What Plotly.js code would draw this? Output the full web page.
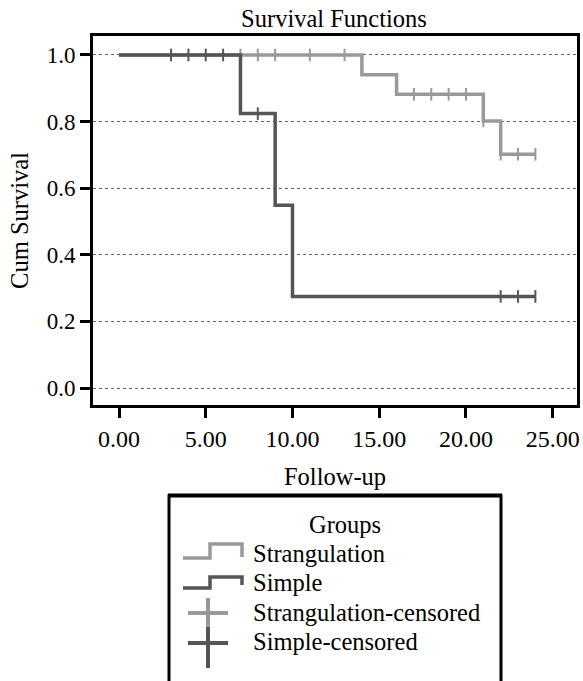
<!DOCTYPE html>
<html>
<head>
<meta charset="utf-8">
<script src="https://cdn.plot.ly/plotly-3.0.1.min.js"></script>
<style>
html,body{margin:0;padding:0;background:#fff;}
#chart{width:583px;height:681px;}
</style>
</head>
<body>
<div id="chart"></div>
<script>
// ---- data ----
var seriesNames = ["Strangulation", "Simple"];
var censoredNames = ["Strangulation-censored", "Simple-censored"];
var legendTitle = "Groups";

var strangTime = [0, 14, 16, 21, 22, 24];
var strangSurv = [1.0, 0.941, 0.882, 0.802, 0.702, 0.702];

var simpleTime = [0, 7, 9, 10, 24];
var simpleSurv = [1.0, 0.824, 0.549, 0.275, 0.275];

var strangCensTime = [7, 8, 9, 11, 13, 17, 18, 19, 20, 21, 22, 23, 24];
var strangCensSurv = [1, 1, 1, 1, 1, 0.882, 0.882, 0.882, 0.882, 0.802, 0.702, 0.702, 0.702];

var simpleCensTime = [3, 4, 5, 6, 8, 22, 23, 24];
var simpleCensSurv = [1, 1, 1, 1, 0.824, 0.275, 0.275, 0.275];

var xTickVals = [0, 5, 10, 15, 20, 25];
var xTickText = ["0.00", "5.00", "10.00", "15.00", "20.00", "25.00"];
var yTickVals = [0, 0.2, 0.4, 0.6, 0.8, 1.0];
var yTickText = ["0.0", "0.2", "0.4", "0.6", "0.8", "1.0"];

// ---- styling ----
var LIGHT = "#999999";
var DARK = "#555555";
var FONT = "Liberation Serif";

var W = 583, H = 681;
var M = {l: 93, r: 6, t: 36, b: 276};
function PX(px) { return (px - M.l) / (W - M.l - M.r); }
function PY(py) { return (H - M.b - py) / (H - M.t - M.b); }

var traces = [
  {x: strangTime, y: strangSurv, mode: "lines", line: {shape: "hv", color: LIGHT, width: 3.5}, name: seriesNames[0], hoverinfo: "skip"},
  {x: strangCensTime, y: strangCensSurv, mode: "markers", marker: {symbol: "line-ns", size: 9, line: {width: 2, color: LIGHT}}, name: censoredNames[0]},
  {x: simpleTime, y: simpleSurv, mode: "lines", line: {shape: "hv", color: DARK, width: 3.5}, name: seriesNames[1]},
  {x: simpleCensTime, y: simpleCensSurv, mode: "markers", marker: {symbol: "line-ns", size: 9, line: {width: 2, color: DARK}}, name: censoredNames[1]}
];

// ---- hand-drawn legend box (as in the reference) ----
var shapes = [];
var annotations = [];
shapes.push({type: "rect", xref: "paper", yref: "paper", x0: PX(169), x1: PX(501), y0: PY(700), y1: PY(496),
  line: {color: "black", width: 3}, fillcolor: "rgba(0,0,0,0)"});
shapes.push({type: "line", xref: "paper", yref: "paper", x0: PX(168), x1: PX(502), y0: PY(495), y1: PY(495),
  line: {color: "black", width: 3}});

function stepPath(yLow, yHigh, yEnd) {
  return "M" + PX(183) + "," + PY(yLow) + " L" + PX(210) + "," + PY(yLow) + " L" + PX(210) + "," + PY(yHigh) +
    " L" + PX(242) + "," + PY(yHigh) + " L" + PX(242) + "," + PY(yEnd);
}
shapes.push({type: "path", xref: "paper", yref: "paper", path: stepPath(558, 544, 557), line: {color: LIGHT, width: 3.5}});
shapes.push({type: "path", xref: "paper", yref: "paper", path: stepPath(588, 577, 585), line: {color: DARK, width: 3.5}});

function cross(cy, top, bot, color) {
  shapes.push({type: "line", xref: "paper", yref: "paper", x0: PX(188), x1: PX(228), y0: PY(cy), y1: PY(cy), line: {color: color, width: 4}});
  shapes.push({type: "line", xref: "paper", yref: "paper", x0: PX(208), x1: PX(208), y0: PY(top), y1: PY(bot), line: {color: color, width: 4}});
}
cross(613, 598, 628, LIGHT);
cross(643, 627, 668, DARK);

annotations.push({xref: "paper", yref: "paper", x: PX(345), y: PY(524), text: legendTitle, showarrow: false,
  xanchor: "center", yanchor: "middle", font: {family: FONT, size: 24.5, color: "#000"}});
var labels = [seriesNames[0], seriesNames[1], censoredNames[0], censoredNames[1]];
var labelY = [553, 582, 612, 641];
for (var i = 0; i < labels.length; i++) {
  annotations.push({xref: "paper", yref: "paper", x: PX(251), y: PY(labelY[i]), text: labels[i], showarrow: false,
    xanchor: "left", yanchor: "middle", font: {family: FONT, size: 24.5, color: "#000"}});
}

var layout = {
  width: W, height: H,
  margin: M,
  paper_bgcolor: "white", plot_bgcolor: "white",
  showlegend: false,
  title: {text: "Survival Functions", x: PX(334), xref: "paper", xanchor: "center", y: 1 - 18 / H, yanchor: "middle",
    font: {family: FONT, size: 24.5, color: "#000"}},
  xaxis: {
    range: [-1.5, 26.4], tickvals: xTickVals, ticktext: xTickText,
    showline: true, mirror: true, linecolor: "black", linewidth: 3,
    ticks: "outside", ticklen: 10, tickwidth: 2.5, tickcolor: "black",
    showgrid: false, zeroline: false,
    tickfont: {family: FONT, size: 24, color: "#000"},
    title: {text: "Follow-up", font: {family: FONT, size: 24.5, color: "#000"}, standoff: 18}
  },
  yaxis: {
    range: [-0.051, 1.057], tickvals: yTickVals, ticktext: yTickText,
    showline: true, mirror: true, linecolor: "black", linewidth: 3,
    ticks: "outside", ticklen: 10, tickwidth: 2.5, tickcolor: "black",
    showgrid: true, gridcolor: "#666666", gridwidth: 1, griddash: "3px,3px", zeroline: false,
    tickfont: {family: FONT, size: 23, color: "#000"},
    title: {text: "Cum Survival", font: {family: FONT, size: 24.5, color: "#000"}, standoff: 12}
  },
  shapes: shapes,
  annotations: annotations
};

Plotly.newPlot("chart", traces, layout, {displayModeBar: false});
</script>
</body>
</html>
